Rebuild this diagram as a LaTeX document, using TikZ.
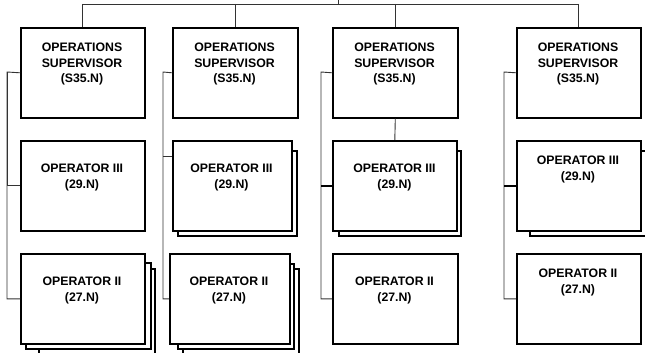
\documentclass[tikz,border=0pt]{standalone}
\usepackage{fontspec}
\setmainfont{Liberation Sans}
\begin{document}
\begin{tikzpicture}[x=1pt,y=-1pt,
  box/.style={draw=black,line width=1.6pt,fill=white,rectangle,inner sep=0pt,anchor=north west},
  shadowbox/.style={draw=black,line width=1.6pt,fill=white},
  txt/.style={font=\fontsize{12.3}{15.5}\selectfont\bfseries,align=center,inner sep=0pt},
  conn/.style={draw=black!80,line width=0.9pt},
  thickconn/.style={draw=black,line width=1.8pt}]
\useasboundingbox (0,0) rectangle (645,353);
\clip (0,0) rectangle (645,353);

% ---------- shadows (drawn first) ----------
% col1 operator II
\draw[shadowbox] (39,269) rectangle (155,362);
\draw[shadowbox] (26,263) rectangle (151,349);
% col2 operator III
\draw[shadowbox] (178,151) rectangle (297,236);
% col2 operator II
\draw[shadowbox] (183,269) rectangle (299,362);
\draw[shadowbox] (178,264) rectangle (294,349);
% col3 operator III
\draw[shadowbox] (339,151) rectangle (461,236);
% col4 operator III
\draw[shadowbox] (530,151) rectangle (655,236);

% ---------- supervisors ----------
\node[box,minimum width=124pt,minimum height=90pt] (s1) at (20,27) {};
\node[box,minimum width=125pt,minimum height=90pt] (s2) at (172,27) {};
\node[box,minimum width=125pt,minimum height=90pt] (s3) at (332,27) {};
\node[box,minimum width=124pt,minimum height=90pt] (s4) at (516,27) {};

% ---------- operator III ----------
\node[box,minimum width=124pt,minimum height=90pt] (p1) at (20,140) {};
\node[box,minimum width=119pt,minimum height=90pt] (p2) at (172,140) {};
\node[box,minimum width=124pt,minimum height=90pt] (p3) at (332,140) {};
\node[box,minimum width=124pt,minimum height=90pt] (p4) at (516,140) {};

% ---------- operator II ----------
\node[box,minimum width=124pt,minimum height=90pt] (q1) at (20,253) {};
\node[box,minimum width=120pt,minimum height=90pt] (q2) at (169,253) {};
\node[box,minimum width=125pt,minimum height=90pt] (q3) at (332,253) {};
\node[box,minimum width=124pt,minimum height=90pt] (q4) at (516,253) {};

% ---------- texts ----------
\node[txt] (s1t) at (82,64) {OPERATIONS\\SUPERVISOR\\(S35.N)};
\node[txt] (s2t) at (234.5,64) {OPERATIONS\\SUPERVISOR\\(S35.N)};
\node[txt] (s3t) at (394.5,64) {OPERATIONS\\SUPERVISOR\\(S35.N)};
\node[txt] (s4t) at (578,64) {OPERATIONS\\SUPERVISOR\\(S35.N)};

\node[txt] (p1t) at (82,177.5) {OPERATOR III\\(29.N)};
\node[txt] (p2t) at (231.5,177.5) {OPERATOR III\\(29.N)};
\node[txt] (p3t) at (394.5,177.5) {OPERATOR III\\(29.N)};
\node[txt] (p4t) at (578,169.5) {OPERATOR III\\(29.N)};

\node[txt] (q1t) at (82,290.5) {OPERATOR II\\(27.N)};
\node[txt] (q2t) at (229,290.5) {OPERATOR II\\(27.N)};
\node[txt] (q3t) at (394.5,290.5) {OPERATOR II\\(27.N)};
\node[txt] (q4t) at (578,282.5) {OPERATOR II\\(27.N)};

% ---------- top connectors ----------
\coordinate (top) at (338,0);
\coordinate (bus) at (338,4);
\draw[conn] (top) -- (bus);
\draw[conn] (s1.north |- bus) -- (s4.north |- bus);
\draw[conn] (s1.north |- bus) -- (s1.north);
\draw[conn] (s2.north |- bus) -- (s2.north);
\draw[conn] (s3.north |- bus) -- (s3.north);
\draw[conn] (s4.north |- bus) -- (s4.north);
\draw[conn] (s3.south) -- (p3.north);

% ---------- left brackets ----------
\coordinate (c1) at (7,72);
\coordinate (c2) at (163,72);
\coordinate (c3) at (321,72);
\coordinate (c4) at (504,72);

\draw[conn] (s1.west) -- (c1) |- (q1.west);
\draw[conn] (c1) |- (p1.west);

\draw[conn] (s2.west) -- (c2) |- (q2.west);
\coordinate (m2) at (163,156);
\draw[conn] (m2) -- (p2.west |- m2);

\draw[conn] (s3.west) -- (c3) |- (q3.west);
\draw[thickconn] (c3 |- p3.west) -- (p3.west);

\draw[conn] (s4.west) -- (c4) |- (q4.west);
\draw[thickconn] (c4 |- p4.west) -- (p4.west);
\end{tikzpicture}
\end{document}
